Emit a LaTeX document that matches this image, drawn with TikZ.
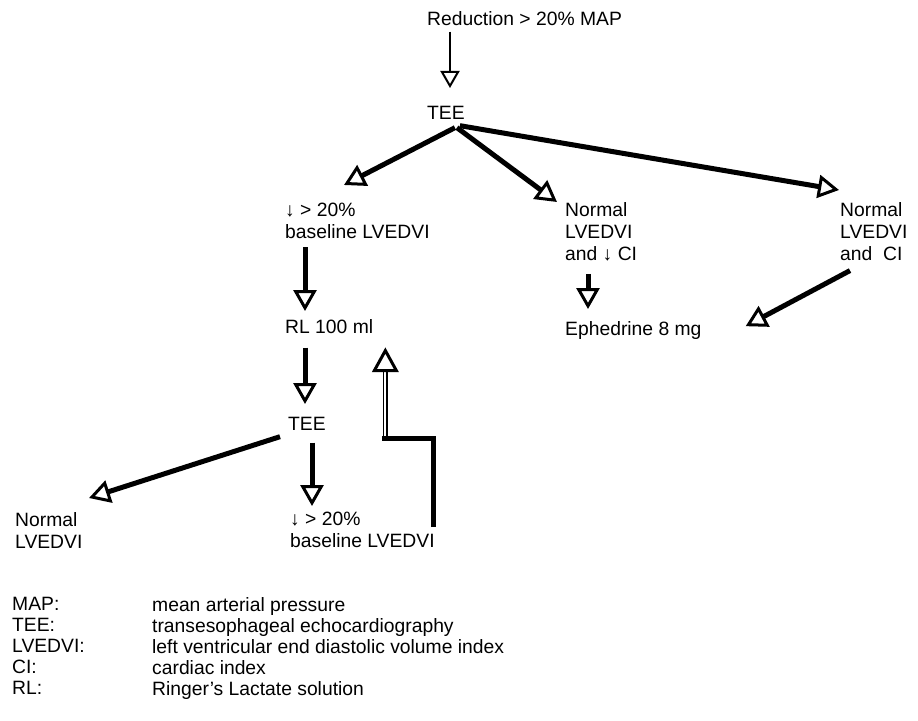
\documentclass[tikz,border=0pt]{standalone}
\usepackage{fontspec}
\setmainfont{Liberation Sans}
\usetikzlibrary{arrows.meta}
\begin{document}
\begin{tikzpicture}[x=1bp,y=-1bp,
  txt/.style={inner sep=0pt, anchor=north west, align=left, font=\fontsize{19.3bp}{22bp}\selectfont},
  legtxt/.style={inner sep=0pt, anchor=north west, align=left, font=\fontsize{19.3bp}{21bp}\selectfont},
  thinarrow/.style={line width=1.8bp, -{Triangle[open, length=17bp, width=19bp, line width'=2bp]}},
  thickarrow/.style={line width=5bp, -{Triangle[open, length=21bp, width=23bp, line width'=3bp]}},
  thickline/.style={line width=5bp},
  doubleline/.style={double, double distance=2bp, line width=1.8bp},
  headtri/.style={line width=3bp, line join=miter, fill=white},
]
\useasboundingbox (0,0) rectangle (918,721);

% nodes
\node[txt] (red) at (427,11) {Reduction > 20\% MAP};
\node[txt] (tee1) at (427,106) {TEE};
\node[txt] (dec1) at (285,203) {↓ > 20\%\\baseline LVEDVI};
\node[txt] (nc1) at (565,202) {Normal\\LVEDVI\\and ↓ CI};
\node[txt] (nc2) at (840,202) {Normal\\LVEDVI\\and\ \ CI};
\node[txt] (rl) at (285,319) {RL 100 ml};
\node[txt] (eph) at (565,321) {Ephedrine 8 mg};
\node[txt] (tee2) at (288,417) {TEE};
\node[txt] (nl) at (15,512) {Normal\\LVEDVI};
\node[txt] (dec2) at (290,512) {↓ > 20\%\\baseline LVEDVI};

% legend
\node[legtxt] (abbr) at (12,597) {MAP:\\TEE:\\LVEDVI:\\CI:\\RL:};
\node[legtxt] (defs) at (152,597) {mean arterial pressure\\transesophageal echocardiography\\left ventricular end diastolic volume index\\cardiac index\\Ringer’s Lactate solution};

% connectors
\draw[thinarrow] ([shift={(23,6)}]red.south west) -- ([shift={(23,-18)}]tee1.north west);

\draw[thickarrow] ([shift={(-10,8)}]tee1.south east) -- ([shift={(59,-18)}]dec1.north west);
\draw[thickarrow] ([shift={(-8,8)}]tee1.south east) -- ([shift={(-8,0)}]nc1.north west);
\draw[thickarrow] ([shift={(-5,6)}]tee1.south east) -- ([shift={(-1,-12)}]nc2.north west);

\draw[thickarrow] ([shift={(20,8)}]dec1.south west) -- ([shift={(20,-8)}]rl.north west);
\draw[thickarrow] ([shift={(23,13)}]nc1.south west) -- ([shift={(23,-12)}]eph.north west);
\draw[thickarrow] ([shift={(10,10)}]nc2.south west) -- ([shift={(44,-4)}]eph.east);

\draw[thickarrow] ([shift={(20,14)}]rl.south west) -- ([shift={(17,-13)}]tee2.north west);
\draw[thickarrow] ([shift={(-8,6)}]tee2.south west) -- ([shift={(74,-14)}]nl.north west);
\draw[thickarrow] ([shift={(24,12)}]tee2.south west) -- ([shift={(22,-6)}]dec2.north west);

% return loop
\coordinate (ret) at ([shift={(12,105)}]rl.south east);
\coordinate (rettip) at ([shift={(12,17)}]rl.south east);
\draw[doubleline] (ret) -- ([shift={(0,20)}]rettip);
\draw[thickline] ([shift={(-1,15)}]dec2.north east) |- ([shift={(-3,0)}]ret);
\draw[headtri] (rettip) -- ++(-11,20) -- ++(22,0) -- cycle;
\end{tikzpicture}
\end{document}
